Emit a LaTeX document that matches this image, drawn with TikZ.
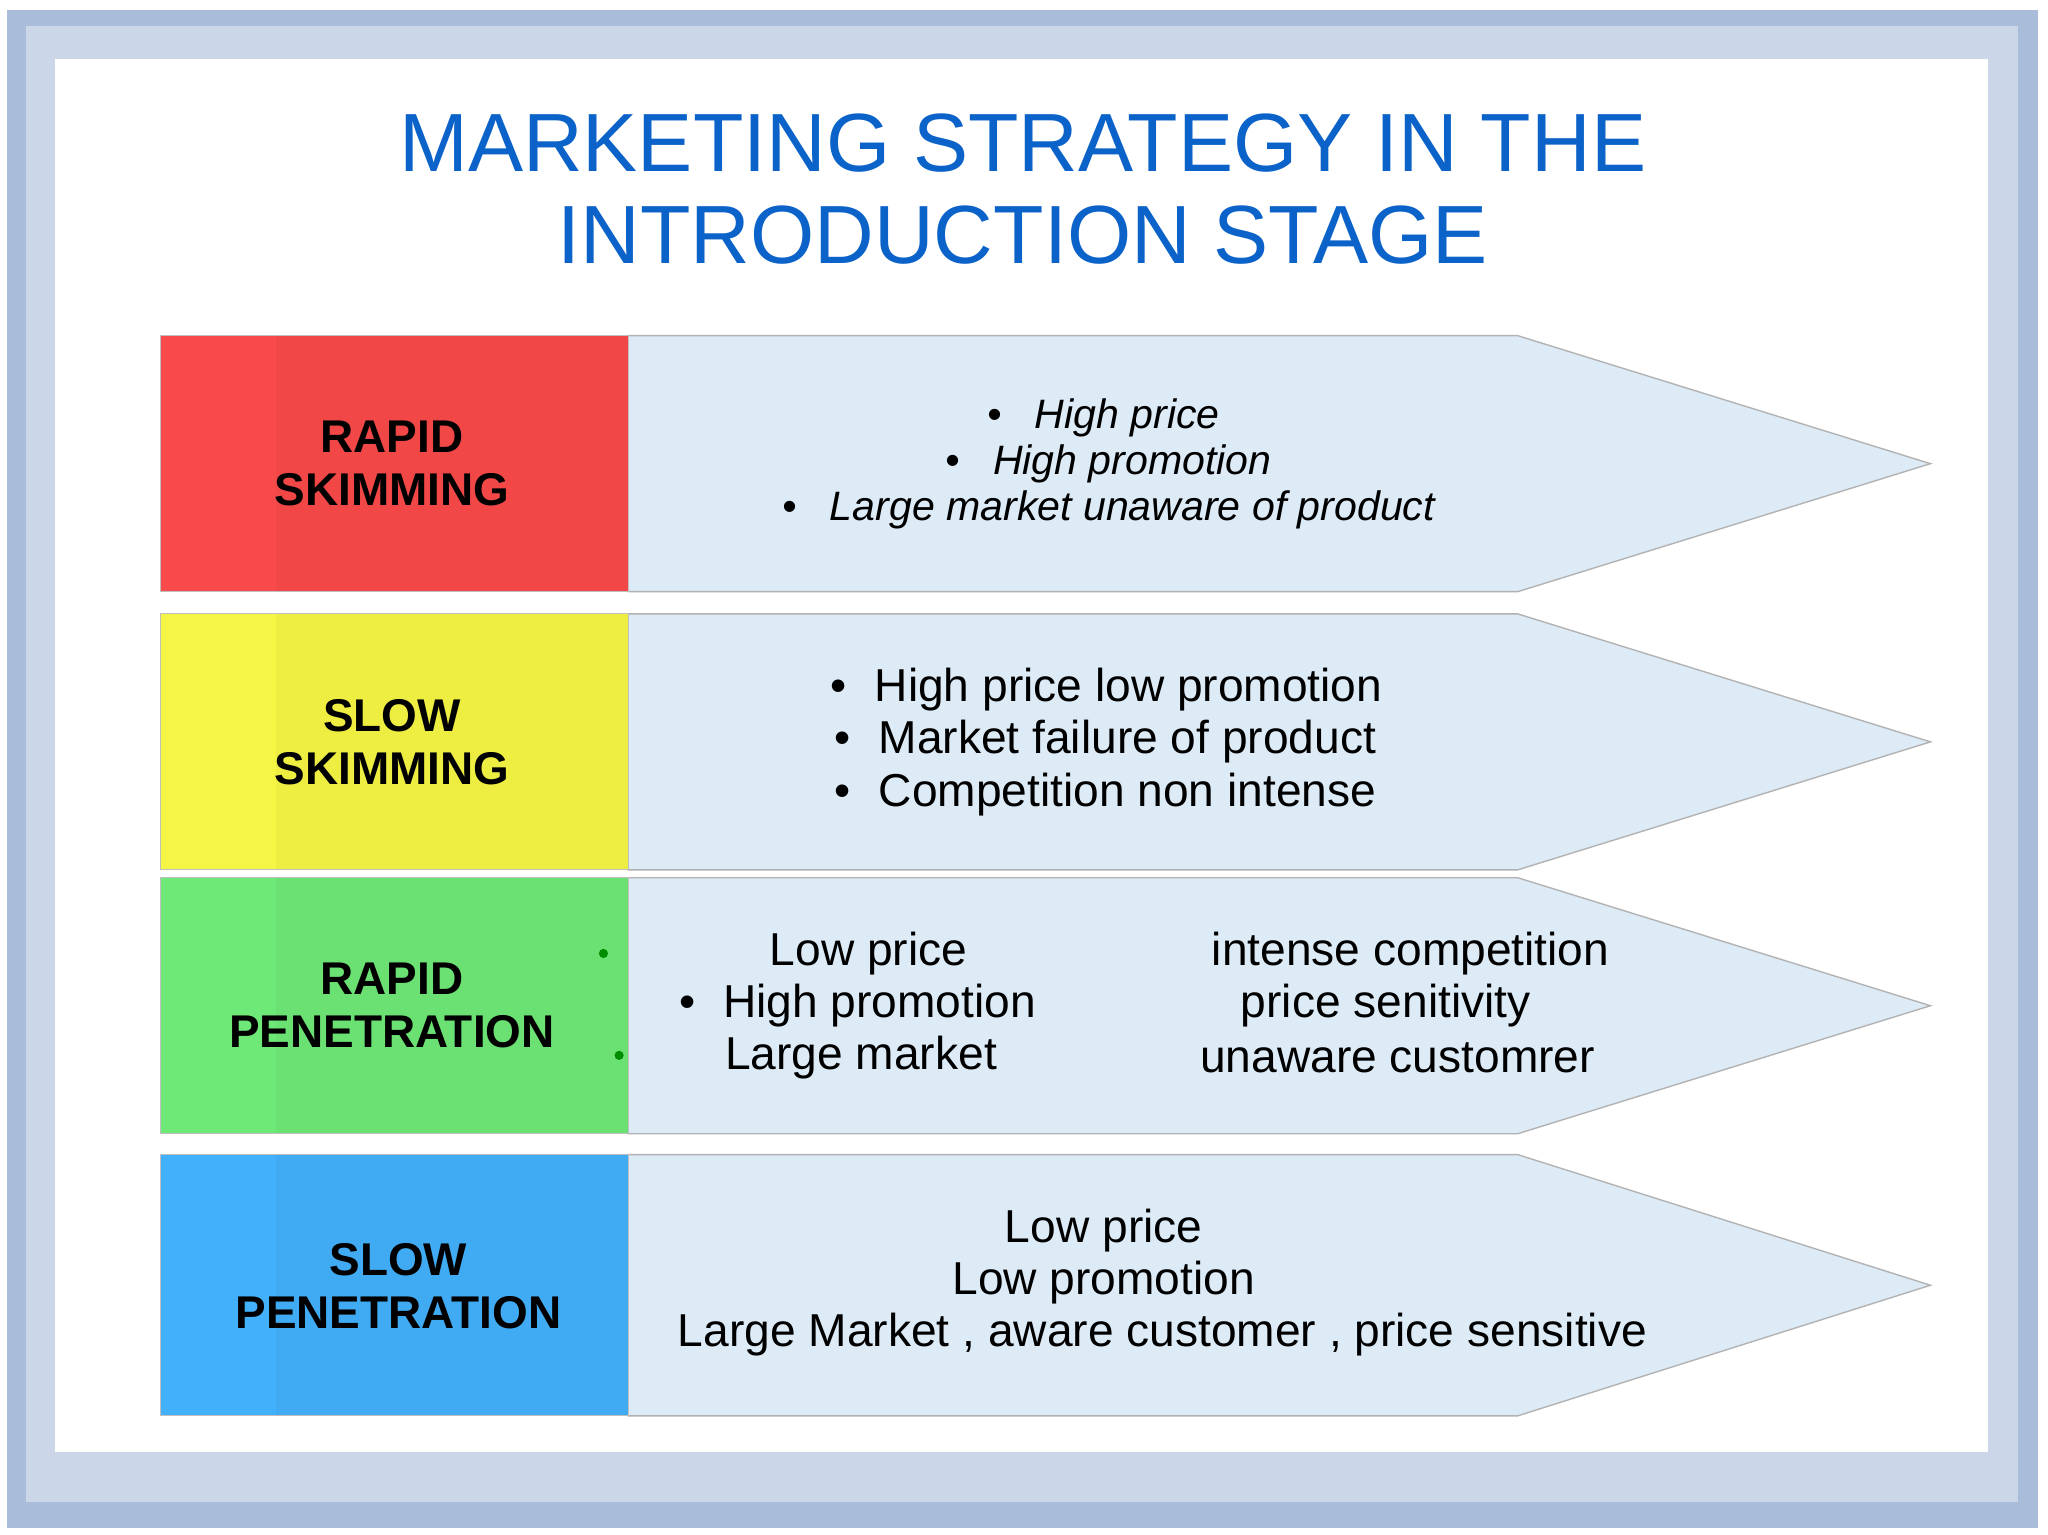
\documentclass[tikz,border=0pt]{standalone}
\usepackage{fontspec}
\setmainfont{Liberation Sans}
\begin{document}
\begin{tikzpicture}[x=0.02cm,y=-0.02cm,
  arrowbox/.style={fill=arrowfill,draw=gray!60,line width=0.6pt},
  lab/.style={font=\fontsize{20}{23}\selectfont\bfseries,align=center},
  body/.style={font=\fontsize{20.1}{22.7}\selectfont,align=center},
  ibody/.style={font=\fontsize{17.9}{20}\selectfont\itshape,align=center}]
\definecolor{arrowfill}{HTML}{DDEBF7}
\definecolor{titleblue}{HTML}{0B62C8}
\definecolor{frameblue}{HTML}{A9BDDA}
\definecolor{cred}{HTML}{F84A4A}\definecolor{cyel}{HTML}{F5F545}
\definecolor{cgrn}{HTML}{6EE876}\definecolor{cblu}{HTML}{42B0FA}
\useasboundingbox (0,0) rectangle (1568,1175);
\fill[white] (0,0) rectangle (1568,1175);
\fill[frameblue] (5,8) rectangle (1560,1170);
\fill[frameblue!60] (20,20) rectangle (1545,1150);
\fill[white] (42,45) rectangle (1522,1112);
\node[font=\fontsize{36}{40}\selectfont,text=titleblue,align=center] (title) at (783,145) {MARKETING STRATEGY IN THE\\INTRODUCTION STAGE};
\foreach \t/\b/\c [count=\i] in {257/453/cred,470/666/cyel,672/868/cgrn,884/1084/cblu}{
  \draw[arrowbox] (481,\t) -- (1162,\t) -- (1478,{(\t+\b)/2}) -- (1162,\b) -- (481,\b) -- cycle;
  \fill[\c] (123,\t) rectangle (481,\b);
  \fill[\c!92!black,opacity=0.35] (211,\t) rectangle (481,\b);
  \draw[gray!50,line width=0.5pt] (123,\t) rectangle (481,\b);
}
\node[lab] (l1) at (300,355) {RAPID\\SKIMMING};
\node[lab] (l2) at (300,568) {SLOW\\SKIMMING};
\node[lab] (l3) at (300,770) {RAPID\\PENETRATION};
\node[lab] (l4) at (305,985) {SLOW\\PENETRATION};
\node[ibody,anchor=west] (b1) at (750,320) {\textbullet\hspace{0.8em}High price};
\node[ibody,anchor=west] (b2) at (718,355) {\textbullet\hspace{0.8em}High promotion};
\node[ibody,anchor=west] (b3) at (593,390) {\textbullet\hspace{0.8em}Large market unaware of product};
\node[body,anchor=west] (c1) at (630,528) {\textbullet\hspace{0.6em}High price low promotion};
\node[body,anchor=west] (c2) at (633,568) {\textbullet\hspace{0.6em}Market failure of product};
\node[body,anchor=west] (c3) at (633,608) {\textbullet\hspace{0.6em}Competition non intense};
\node[body] (d1) at (665,730) {Low price};
\node[body,anchor=west] (d2) at (514,770) {\textbullet\hspace{0.6em}High promotion};
\node[body,anchor=west] (d3) at (549,810) {Large market};
\node[body] (e1) at (1080,730) {intense competition};
\node[body] (e2) at (1061,770) {price senitivity};
\node[body] (e3) at (1070,810) {unaware customrer};
\fill[green!55!black] (462,730) circle (3.5) (474,808) circle (3.5);
\node[body] (f1) at (845,942) {Low price};
\node[body] (f2) at (845,982) {Low promotion};
\node[body] (f3) at (890,1022) {Large Market , aware customer , price sensitive};
\end{tikzpicture}
\end{document}
